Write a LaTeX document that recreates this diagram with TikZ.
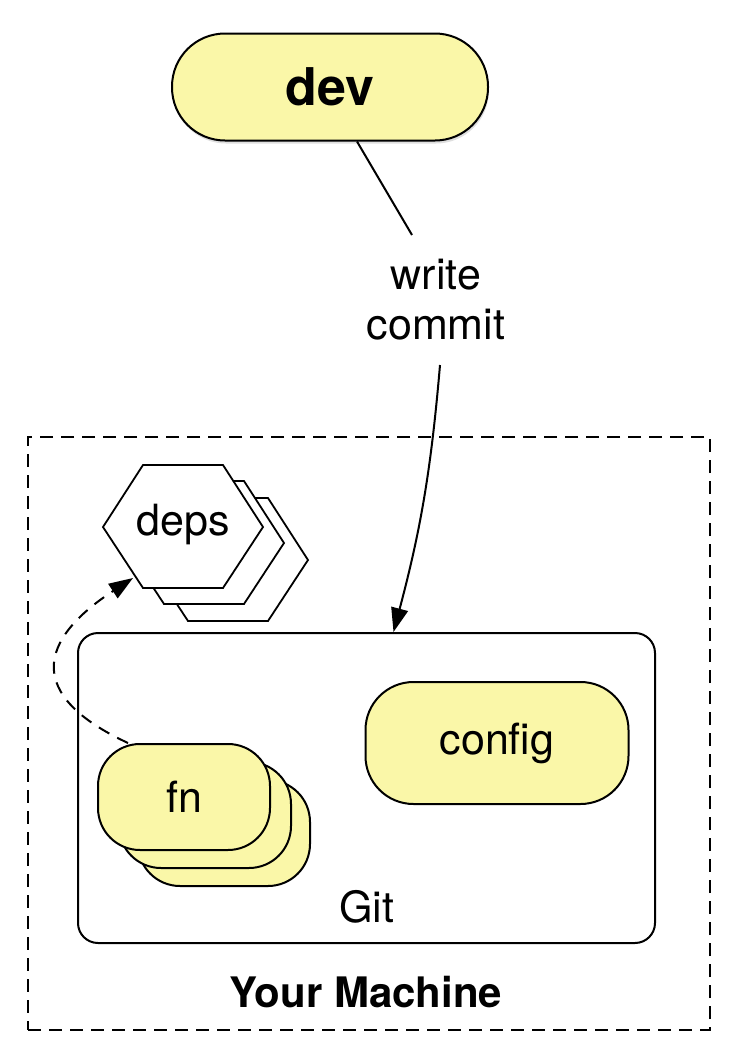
\documentclass[tikz,border=0pt]{standalone}
\usepackage{fontspec}
\setmainfont{TeX Gyre Heros}
\usepackage{tikz}
\usetikzlibrary{positioning, arrows.meta, shadows}

\definecolor{pillyellow}{RGB}{250,247,168}

\begin{document}
\begin{tikzpicture}[x=1pt, y=-1pt, line width=2pt,
    pill/.style={draw, fill=pillyellow, rounded corners=48pt,
        font=\fontsize{43}{50}\selectfont},
    box/.style={draw, rounded corners=20pt},
    hexline/.style={draw, fill=white, line width=1.8pt},
    flow/.style={-{Triangle[length=24pt, width=17pt]}},
    depends/.style={flow, dashed, dash pattern=on 12pt off 9pt}]

    \useasboundingbox (0,0) rectangle (742,1063);

    % your machine and git
    \node[draw, dashed, dash pattern=on 13pt off 8pt,
        minimum width=682pt, minimum height=593pt]
        (machine) at (369,733.5) {};
    \node[box, minimum width=577pt, minimum height=310pt]
        (git) at (366.5,788) {};
    \node[font=\fontsize{43}{50}\selectfont] (gitlabel) at (367,907) {Git};
    \node[font=\bfseries\fontsize{42}{50}\selectfont]
        (machinelabel) at (366,992) {Your Machine};

    % dev
    \node[pill, minimum width=316pt, minimum height=107pt,
        rounded corners=53pt, font=\bfseries\fontsize{52}{60}\selectfont,
        drop shadow={shadow xshift=1pt, shadow yshift=-3pt, opacity=0.25}]
        (dev) at (330,87) {dev};
    \node[align=center, minimum height=128pt, inner sep=0pt,
        font=\fontsize{43}{50}\selectfont]
        (action) at (436,300) {write\\commit};

    % config
    \node[pill, minimum width=263pt, minimum height=122pt]
        (config) at (497,743) {config};

    % fn stack
    \foreach \dx/\dy in {40/36, 21/18}
        \node[pill, minimum width=172pt, minimum height=106pt,
            rounded corners=42pt] at (184+\dx,797+\dy) {};
    \node[pill, minimum width=172pt, minimum height=106pt,
        rounded corners=42pt] (fn) at (184,797) {fn};

    % deps stack
    \foreach \dx/\dy in {45/33, 21/16, 0/0}
        \draw[hexline, shift={(\dx,\dy)}] (103,527) -- (143,465)
            -- (223,465) -- (263,527) -- (223,588) -- (143,588) -- cycle;
    \node[font=\fontsize{43}{50}\selectfont] (deps) at (183,525) {deps};
    \coordinate (depsedge) at (133,578);

    % connectors
    \draw ([xshift=27pt]dev.south) -- ([xshift=-24pt]action.north);
    \draw[flow] ([xshift=4pt]action.south) to[bend left=5]
        ([xshift=27pt]git.north);
    \draw[depends] ([xshift=31pt]fn.north west)
        .. controls (25,695) and (38,640) .. (depsedge);
\end{tikzpicture}
\end{document}
